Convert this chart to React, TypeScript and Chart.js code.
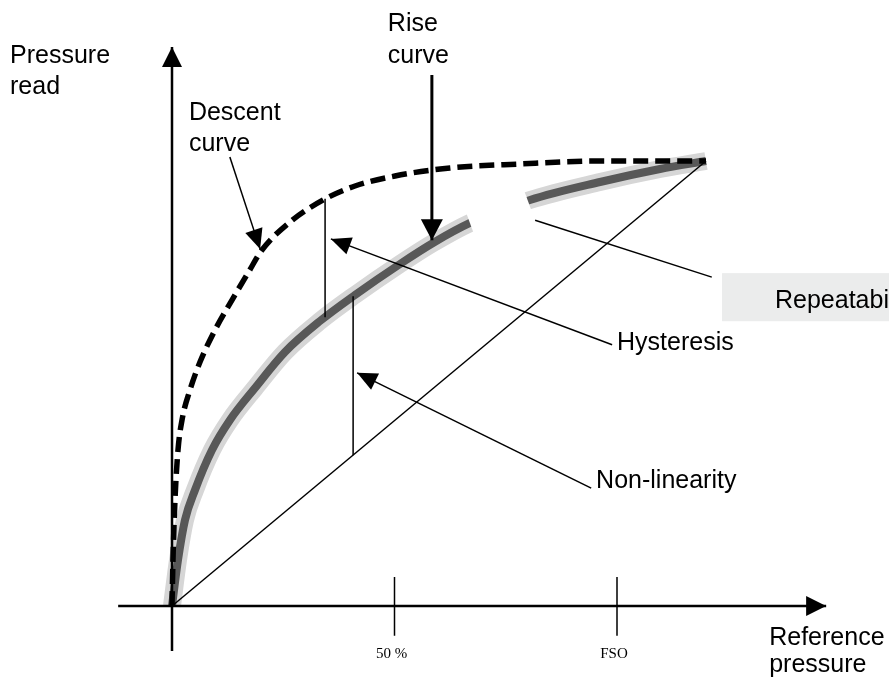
import { useEffect, useRef } from 'react';
import { Chart, registerables } from 'chart.js';
Chart.register(...registerables);

// Data units: x = reference pressure (% of FSO), y = pressure read (% of full output)
const riseX = [0, 1.35, 2.92, 5.17, 8.99, 13.03, 18.65, 25.39, 33.26, 41.12, 51.24, 58.65, 66.97, 80.45, 96.18, 109.66, 120];
const riseY = [0, 10.34, 19.33, 26.07, 35.06, 41.8, 48.99, 57.08, 64.04, 69.89, 76.85, 81.57, 86.07, 91.24, 95.28, 98.2, 100];
const descentX = [0, 0.22, 0.67, 1.35, 2.25, 4.04, 6.29, 9.66, 13.48, 17.08, 20.22, 26.52, 34.38, 41.12, 50.11, 62.47, 78.2, 96.18, 120];
const descentY = [0, 10.34, 23.82, 35.06, 41.8, 48.54, 54.83, 62.02, 68.76, 74.83, 80.0, 86.29, 91.46, 94.38, 96.63, 98.43, 99.33, 100, 100];
const linearX = [0, 120];
const linearY = [0, 100];

const tickValues = [50, 100];
const tickLabels = ['50 %', 'FSO'];

const hysteresisX = [34.4, 34.4];
const hysteresisY = [91.5, 64.9];
const nonLinX = [40.7, 40.7];
const nonLinY = [69.6, 33.9];

const U = 4.45; // pixels per data unit
const X0 = 172; // pixel of x = 0
const Y0 = 606; // pixel of y = 0
const W = 889;
const H = 677;

type P = { x: number; y: number };
const pts = (xs: number[], ys: number[]): P[] => xs.map((x, i) => ({ x, y: ys[i] }));

const arrows: { from: P; to: P; width: number; head: number; half: number }[] = [
  { from: { x: 13.0, y: 100.9 }, to: { x: 19.8, y: 80.2 }, width: 1.5, head: 20, half: 9 },
  { from: { x: 58.4, y: 119.3 }, to: { x: 58.4, y: 82.2 }, width: 3, head: 21, half: 11 },
  { from: { x: 98.9, y: 58.7 }, to: { x: 35.7, y: 82.5 }, width: 1.5, head: 20, half: 9 },
  { from: { x: 94.2, y: 26.5 }, to: { x: 41.6, y: 52.4 }, width: 1.5, head: 20, half: 9 },
  { from: { x: 0, y: -10.1 }, to: { x: 0, y: 125.6 }, width: 2.5, head: 20, half: 10 },
  { from: { x: -12.1, y: 0 }, to: { x: 147.0, y: 0 }, width: 2.5, head: 20, half: 10 },
];

const SANS = '25px "Liberation Sans", Arial, sans-serif';
const labels: { text: string; x: number; y: number }[] = [
  { text: 'Pressure', x: -36.4, y: 122.0 },
  { text: 'read', x: -36.4, y: 115.1 },
  { text: 'Rise', x: 48.5, y: 129.2 },
  { text: 'curve', x: 48.5, y: 122.0 },
  { text: 'Descent', x: 3.8, y: 109.2 },
  { text: 'curve', x: 3.8, y: 102.2 },
  { text: 'Hysteresis', x: 100.0, y: 57.5 },
  { text: 'Non-linearity', x: 95.3, y: 26.5 },
  { text: 'Reference', x: 134.2, y: -8.8 },
  { text: 'pressure', x: 134.2, y: -14.8 },
];

const repeatBox = { x1: 123.6, y1: 74.8, x2: 170, y2: 64.0 };
const repeatText = { text: 'Repeatability', x: 135.5, y: 67.0 };

const overlay = {
  id: 'overlay',
  beforeDatasetsDraw(chart: any) {
    const { ctx, scales } = chart;
    const sx = scales.x, sy = scales.y;
    ctx.save();
    ctx.fillStyle = '#ebecec';
    const bx = sx.getPixelForValue(repeatBox.x1);
    const by = sy.getPixelForValue(repeatBox.y1);
    ctx.fillRect(bx, by, sx.getPixelForValue(repeatBox.x2) - bx, sy.getPixelForValue(repeatBox.y2) - by);
    ctx.restore();
  },
  afterDatasetsDraw(chart: any) {
    const { ctx, scales } = chart;
    const sx = scales.x, sy = scales.y;
    ctx.save();
    ctx.fillStyle = '#000';
    arrows.forEach((a) => {
      const fx = sx.getPixelForValue(a.from.x), fy = sy.getPixelForValue(a.from.y);
      const tx = sx.getPixelForValue(a.to.x), ty = sy.getPixelForValue(a.to.y);
      const len = Math.hypot(tx - fx, ty - fy);
      const dx = (tx - fx) / len, dy = (ty - fy) / len;
      const bx = tx - dx * a.head, by = ty - dy * a.head;
      ctx.beginPath();
      ctx.moveTo(tx, ty);
      ctx.lineTo(bx - dy * a.half, by + dx * a.half);
      ctx.lineTo(bx + dy * a.half, by - dx * a.half);
      ctx.closePath();
      ctx.fill();
    });
    ctx.textBaseline = 'alphabetic';
    ctx.textAlign = 'left';
    ctx.font = SANS;
    labels.forEach((l) => {
      ctx.fillText(l.text, sx.getPixelForValue(l.x), sy.getPixelForValue(l.y));
    });
    ctx.fillText(repeatText.text, sx.getPixelForValue(repeatText.x), sy.getPixelForValue(repeatText.y));
    ctx.font = '15px "Liberation Serif", "Times New Roman", serif';
    ctx.textAlign = 'center';
    tickValues.forEach((v, i) => {
      ctx.fillText(tickLabels[i], sx.getPixelForValue(v) - 3, sy.getPixelForValue(-11.7));
    });
    ctx.restore();
  },
};

export default function App() {
  const ref = useRef<HTMLCanvasElement>(null);
  useEffect(() => {
    if (!ref.current) return;
    const line = (data: P[], color: string, width: number, extra: any = {}) => ({
      type: 'line',
      data,
      borderColor: color,
      backgroundColor: color,
      borderWidth: width,
      pointRadius: 0,
      fill: false,
      tension: 0,
      ...extra,
    });
    const datasets: any[] = [
      line(pts(riseX, riseY), '#d6d6d6', 18, { cubicInterpolationMode: 'monotone' }),
      line(pts(riseX, riseY), '#585858', 8, { cubicInterpolationMode: 'monotone' }),
      line([{ x: 67.3, y: 85.1 }, { x: 80.4, y: 89.9 }], '#ffffff', 33, { borderCapStyle: 'butt' }),
      line(pts(linearX, linearY), '#000', 1.5),
      line(pts(descentX, descentY), '#000', 5.5, { cubicInterpolationMode: 'monotone', borderDash: [15, 7], borderCapStyle: 'butt' }),
      line(pts(hysteresisX, hysteresisY), '#000', 1.5),
      line(pts(nonLinX, nonLinY), '#000', 1.5),
      line([{ x: 121.3, y: 73.9 }, { x: 81.6, y: 86.7 }], '#000', 1.5),
      ...tickValues.map((v) => line([{ x: v, y: 6.5 }, { x: v, y: -6.7 }], '#000', 1.5)),
      ...arrows.map((a) => line([a.from, a.to], '#000', a.width)),
    ];
    datasets.forEach((d, i) => (d.order = -i));
    const chart = new Chart(ref.current, {
      type: 'line',
      data: { datasets },
      options: {
        animation: false,
        responsive: false,
        layout: { padding: 0 },
        parsing: false as any,
        plugins: { legend: { display: false }, tooltip: { enabled: false } },
        scales: {
          x: { type: 'linear', display: false, min: -X0 / U, max: (W - X0) / U },
          y: { type: 'linear', display: false, min: -(H - Y0) / U, max: Y0 / U },
        },
      },
      plugins: [overlay],
    } as any);
    return () => chart.destroy();
  }, []);
  return (
    <div style={{ position: 'absolute', left: 0, top: 0, width: W, height: H, background: '#fff' }}>
      <canvas ref={ref} width={W} height={H} style={{ display: 'block' }} />
    </div>
  );
}
